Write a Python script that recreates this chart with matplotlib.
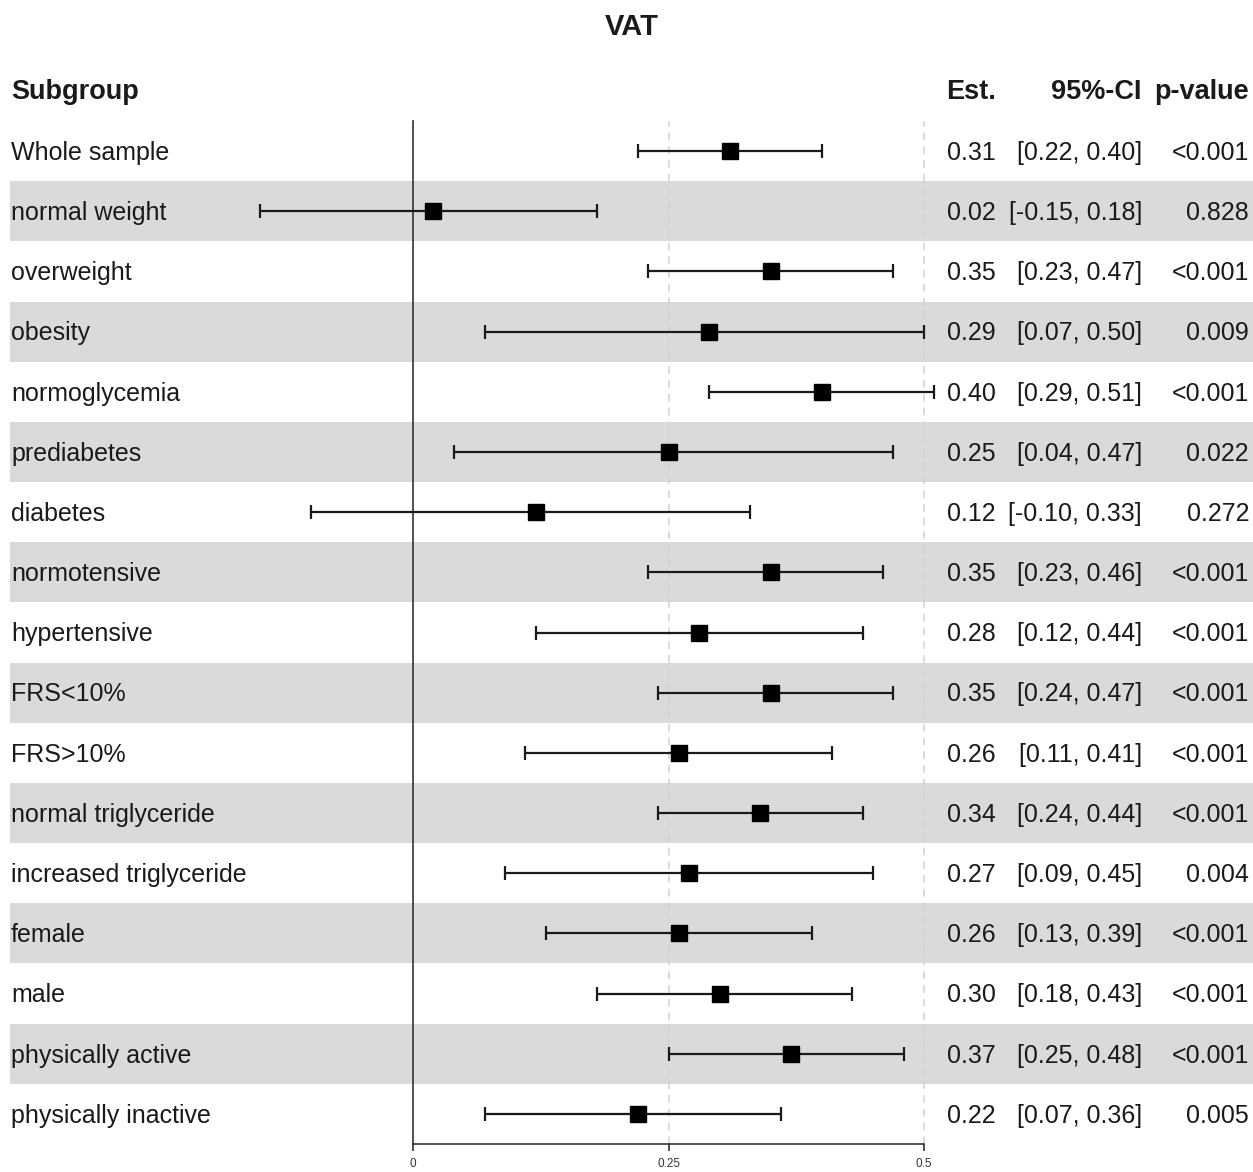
import matplotlib.pyplot as plt
from matplotlib.transforms import blended_transform_factory

# subgroup results
groups = ["Whole sample", "normal weight", "overweight", "obesity",
          "normoglycemia", "prediabetes", "diabetes", "normotensive",
          "hypertensive", "FRS<10%", "FRS>10%", "normal triglyceride",
          "increased triglyceride", "female", "male", "physically active",
          "physically inactive"]
est = [0.31, 0.02, 0.35, 0.29, 0.40, 0.25, 0.12, 0.35, 0.28, 0.35, 0.26,
       0.34, 0.27, 0.26, 0.30, 0.37, 0.22]
lower = [0.22, -0.15, 0.23, 0.07, 0.29, 0.04, -0.10, 0.23, 0.12, 0.24, 0.11,
         0.24, 0.09, 0.13, 0.18, 0.25, 0.07]
upper = [0.40, 0.18, 0.47, 0.50, 0.51, 0.47, 0.33, 0.46, 0.44, 0.47, 0.41,
         0.44, 0.45, 0.39, 0.43, 0.48, 0.36]
pvals = ["<0.001", "0.828", "<0.001", "0.009", "<0.001", "0.022", "0.272",
         "<0.001", "<0.001", "<0.001", "<0.001", "<0.001", "0.004", "<0.001",
         "<0.001", "<0.001", "0.005"]
xticks = [0, 0.25, 0.5]
xticklabels = ["0", "0.25", "0.5"]

plt.rcParams['font.family'] = ['Liberation Sans', 'DejaVu Sans']
W, H = 1253, 1172
fig = plt.figure(figsize=(W / 100, H / 100), dpi=100)

# forest panel placed in pixel terms
x0, x1 = 413, 924
ytop, ybot = 121, 1144
ax = fig.add_axes([x0 / W, (H - ybot) / H, (x1 - x0) / W, (ybot - ytop) / H])
n = len(groups)
rows = list(range(n))
ax.set_xlim(0, 0.5)
ax.set_ylim(n - 0.5, -0.5)

tr = blended_transform_factory(fig.transFigure, ax.transData)
tc = "#1a1a1a"

# shaded bands on every second row (behind the panel)
for i in rows:
    if i % 2 == 1:
        band = plt.Rectangle((10 / W, i - 0.5), (W - 10) / W, 1.0,
                             transform=tr, facecolor="#dadada",
                             edgecolor="none", zorder=-1)
        fig.add_artist(band)

for xv in xticks[1:]:
    ax.axvline(xv, color="#d2d2d2", lw=1.1, ls=(0, (5, 4)), zorder=1,
               clip_on=False)

xerr = [[e - l for e, l in zip(est, lower)], [u - e for e, u in zip(est, upper)]]
ax.errorbar(est, rows, xerr=xerr, fmt="s", color="black", ecolor=tc,
            markersize=11, elinewidth=1.6, capsize=5, capthick=1.6,
            clip_on=False, zorder=3)
ax.patch.set_alpha(0)

for s in ["top", "right"]:
    ax.spines[s].set_visible(False)
ax.spines["left"].set_color("#333333")
ax.spines["left"].set_linewidth(1.2)
ax.spines["bottom"].set_color("#333333")
ax.spines["bottom"].set_linewidth(1.2)
ax.spines["bottom"].set_bounds(0, 0.5)
ax.set_yticks([])
ax.set_xticks(xticks)
ax.set_xticklabels(xticklabels, fontsize=8.5, color="#333333")
ax.tick_params(axis="x", length=5, width=1.2, color="#333333", pad=5)

fs = 18
ty = 0.03  # small downward nudge of row text
for i in rows:
    ax.text(11 / W, i + ty, groups[i], transform=tr, ha="left", va="center",
            fontsize=fs, color=tc)
    ax.text(996 / W, i + ty, f"{est[i]:.2f}", transform=tr, ha="right",
            va="center", fontsize=fs, color=tc)
    ax.text(1142 / W, i + ty, f"[{lower[i]:.2f}, {upper[i]:.2f}]",
            transform=tr, ha="right", va="center", fontsize=fs, color=tc)
    ax.text(1249 / W, i + ty, pvals[i], transform=tr, ha="right",
            va="center", fontsize=fs, color=tc)

# header row
hy = -0.98
hk = dict(transform=tr, va="center", fontsize=19.5, fontweight="bold",
          color=tc)
ax.text(11 / W, hy, "Subgroup", ha="left", **hk)
ax.text(996 / W, hy, "Est.", ha="right", **hk)
ax.text(1142 / W, hy, "95%-CI", ha="right", **hk)
ax.text(1249 / W, hy, "p-value", ha="right", **hk)

fig.text(632 / W, 1 - 27 / H, "VAT", ha="center", va="center",
         fontsize=21, fontweight="bold", color=tc)

fig.savefig("out.png", dpi=100)
